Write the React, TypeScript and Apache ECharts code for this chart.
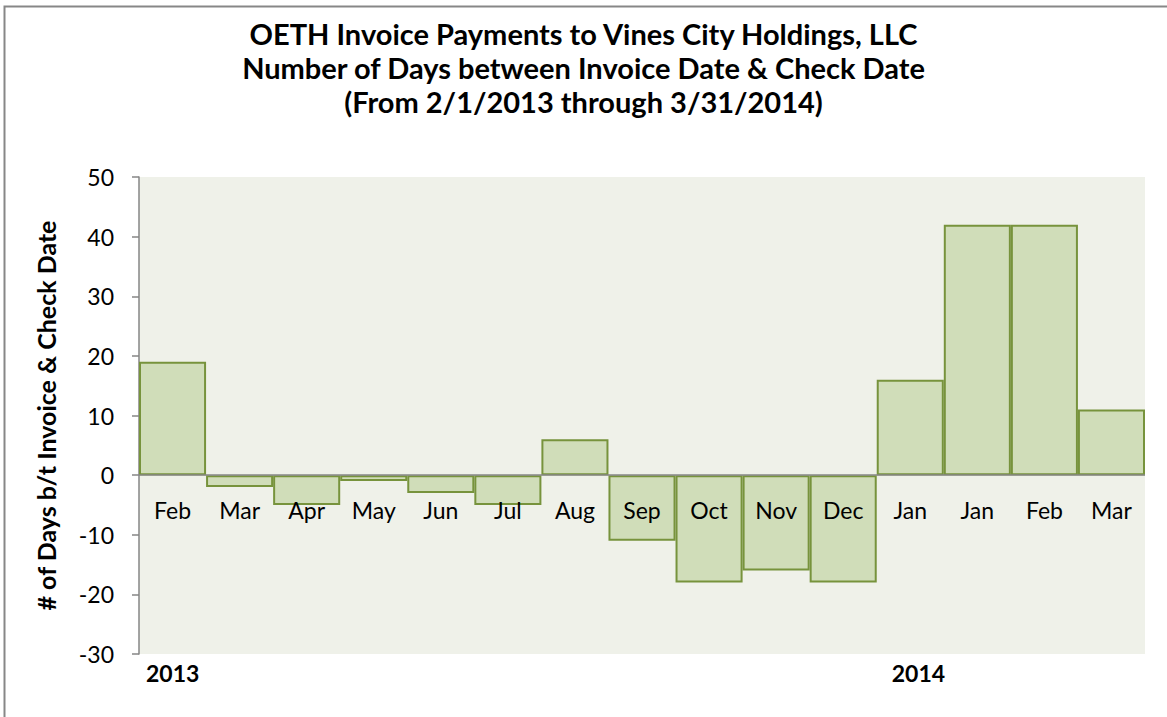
import React, { useEffect, useRef } from 'react';
import * as echarts from 'echarts';

const titleLines = [
  'OETH Invoice Payments to Vines City Holdings, LLC',
  'Number of Days between Invoice Date & Check Date',
  '(From 2/1/2013 through 3/31/2014)',
];
const yAxisName = '# of Days b/t Invoice & Check Date';
const categories = ['Feb', 'Mar', 'Apr', 'May', 'Jun', 'Jul', 'Aug', 'Sep', 'Oct', 'Nov', 'Dec', 'Jan', 'Jan', 'Feb', 'Mar'];
const values = [19, -2, -5, -1, -3, -5, 6, -11, -18, -16, -18, 16, 42, 42, 11];
const years = ['2013', '2014'];
const yearStartIndex = [0, 11];
const yMin = -30;
const yMax = 50;
const yInterval = 10;

export default function App() {
  const ref = useRef<HTMLDivElement>(null);
  useEffect(() => {
    const chart = echarts.init(ref.current!, null, { renderer: 'svg' });
    const font = 'Lato, "Open Sans", sans-serif';
    const border = {
      type: 'rect',
      id: 'outerBorder',
      silent: true,
      shape: { x: 4.5, y: 6.5, width: 1400, height: 1000 },
      style: { fill: 'none', stroke: '#878787', lineWidth: 2 },
    };
    chart.setOption({
      animation: false,
      backgroundColor: '#ffffff',
      textStyle: { fontFamily: font },
      title: {
        text: titleLines.join('\n'),
        left: 'center',
        top: 16,
        padding: 0,
        textStyle: { fontFamily: font, fontSize: 29, fontWeight: 'bold', color: '#000', lineHeight: 34 },
      },
      graphic: [border],
      grid: {
        left: 139,
        right: 22,
        top: 177,
        bottom: 63,
        show: true,
        backgroundColor: '#EFF1E9',
        borderWidth: 0,
      },
      xAxis: {
        type: 'category',
        data: categories,
        z: 3,
        axisLine: { show: false },
        axisTick: { show: false },
        axisLabel: { fontFamily: font, fontSize: 23, color: '#000', margin: -156, interval: 0 },
        splitLine: { show: false },
      },
      yAxis: {
        type: 'value',
        min: yMin,
        max: yMax,
        interval: yInterval,
        name: yAxisName,
        nameLocation: 'middle',
        nameGap: 81,
        nameTextStyle: { fontFamily: font, fontSize: 25, fontWeight: 'bold', color: '#000' },
        axisLine: { show: true, onZero: false, lineStyle: { color: '#868686', width: 1.5 } },
        axisTick: { show: true, length: 7, inside: false, lineStyle: { color: '#868686', width: 1.5 } },
        axisLabel: { fontFamily: font, fontSize: 23, color: '#000', margin: 25 },
        splitLine: { show: false },
      },
      series: [
        {
          type: 'bar',
          data: values,
          barCategoryGap: '0%',
          itemStyle: { color: '#D0DDB9', borderColor: '#77933C', borderWidth: 2 },
          markLine: {
            silent: true,
            symbol: 'none',
            label: { show: false },
            lineStyle: { color: '#868686', width: 1.5, type: 'solid' },
            data: [{ yAxis: 0 }],
          },
        },
      ],
    });

    // Year group labels placed from the category axis scale
    const c0 = chart.convertToPixel({ xAxisIndex: 0 }, 0) as number;
    const c1 = chart.convertToPixel({ xAxisIndex: 0 }, 1) as number;
    const band = c1 - c0;
    const bottomY = chart.convertToPixel({ yAxisIndex: 0 }, yMin) as number;
    const yearOffsets = [7, 15];
    const yearTexts = years.map((label, i) => {
      const center = chart.convertToPixel({ xAxisIndex: 0 }, yearStartIndex[i]) as number;
      return {
        type: 'text',
        id: 'year' + i,
        silent: true,
        x: center - band / 2 + yearOffsets[i],
        y: bottomY + 7,
        style: { text: label, fontFamily: font, fontSize: 23, fontWeight: 'bold', fill: '#000', textAlign: 'left', textVerticalAlign: 'top' },
      };
    });
    chart.setOption({ graphic: [border, ...yearTexts] });
    return () => chart.dispose();
  }, []);
  return <div ref={ref} style={{ position: 'fixed', left: 0, top: 0, width: 1167, height: 717 }} />;
}
